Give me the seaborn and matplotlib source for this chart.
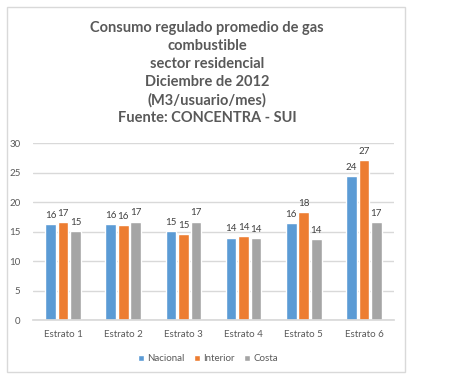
import matplotlib
matplotlib.use("Agg")
import matplotlib.pyplot as plt
from matplotlib.patches import Rectangle
import seaborn as sns
import pandas as pd

categories = ["Estrato 1", "Estrato 2", "Estrato 3", "Estrato 4", "Estrato 5", "Estrato 6"]
nacional = [16.3, 16.3, 15.1, 14.0, 16.4, 24.4]
interior = [16.6, 16.1, 14.6, 14.2, 18.3, 27.2]
costa = [15.1, 16.7, 16.7, 13.9, 13.7, 16.6]
series_names = ["Nacional", "Interior", "Costa"]
colors = ["#5B9BD5", "#ED7D31", "#A5A5A5"]
title = ("Consumo regulado promedio de gas\ncombustible\nsector residencial\n"
         "Diciembre de 2012\n(M3/usuario/mes)\nFuente: CONCENTRA - SUI")

rows = []
for name, vals in zip(series_names, [nacional, interior, costa]):
    for c, v in zip(categories, vals):
        rows.append({"Estrato": c, "Serie": name, "Valor": v})
df = pd.DataFrame(rows)

sns.set_theme(style="white")
plt.rcParams["font.family"] = ["Lato", "DejaVu Sans"]

fig = plt.figure(figsize=(4.71, 3.79), dpi=100)
fig.patches.append(Rectangle((7 / 471, 1 - 372 / 379), 398 / 471, 365 / 379,
                             transform=fig.transFigure, fill=False,
                             edgecolor="#D9D9D9", linewidth=1))
ax = fig.add_axes([33 / 471, 1 - 320 / 379, 361 / 471, 176.7 / 379])

sns.barplot(data=df, x="Estrato", y="Valor", hue="Serie", palette=colors,
            width=0.62, gap=0.14, ax=ax, saturation=1, legend=True)

ax.set_ylim(0, 30)
ax.set_yticks(range(0, 31, 5))
ax.yaxis.grid(True, color="#D9D9D9", linewidth=1)
ax.set_axisbelow(True)
for s in ["top", "right", "left"]:
    ax.spines[s].set_visible(False)
ax.spines["bottom"].set_color("#D9D9D9")
ax.set_xlabel("")
ax.set_ylabel("")
ax.tick_params(axis="both", length=0, labelsize=7, colors="#595959")
ax.tick_params(axis="x", pad=7)
ax.tick_params(axis="y", pad=9)

for cont in ax.containers:
    ax.bar_label(cont, labels=[f"{v:.0f}" for v in cont.datavalues],
                 padding=3, fontsize=7, color="#404040")

handles, labels = ax.get_legend_handles_labels()
ax.legend(handles, labels, loc="upper center", bbox_to_anchor=(0.485, -0.145),
          ncol=3, frameon=False, fontsize=7, handlelength=0.6, handleheight=0.6,
          handletextpad=0.3, columnspacing=1.0, labelcolor="#595959")

fig.text(0.44, 1 - 21 / 379, title, ha="center", va="top", fontsize=10.5,
         fontweight="bold", color="#595959", linespacing=1.36)

fig.savefig("out.png", dpi=100)
